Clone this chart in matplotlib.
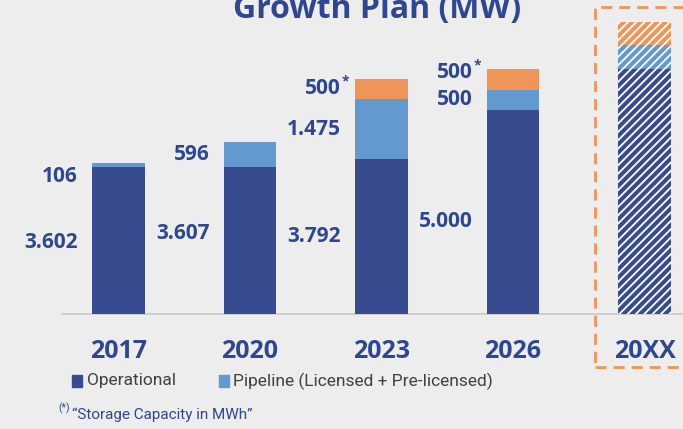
import matplotlib.pyplot as plt
from matplotlib.patches import Rectangle

# Werte (MW)
years = ["2017", "2020", "2023", "2026", "20XX"]
operational = [3602, 3607, 3792, 5000, 6000]
pipeline = [106, 596, 1475, 500, 600]
storage = [0, 0, 500, 500, 550]
op_labels = ["3.602", "3.607", "3.792", "5.000", None]
pipe_labels = ["106", "596", "1.475", "500", None]
storage_labels = [None, None, "500", "500", None]

c_op = "#384B8E"
c_pipe = "#6299CF"
c_sto = "#F0955A"
c_txt = "#2F4690"

plt.rcParams["font.family"] = ["Open Sans", "DejaVu Sans"]
plt.rcParams["hatch.linewidth"] = 1.3

W, H = 683, 429
fig = plt.figure(figsize=(W / 100, H / 100), dpi=100, facecolor="#EDEDED")
ax = fig.add_axes([0, 0, 1, 1])
ax.set_facecolor("#EDEDED")
ax.axis("off")

# pixel -> data: bar centers every 131.5 px, starting at 118.5 px; 24.5 MW per px, baseline 314 px from top
ax.set_xlim(-118.5 / 131.5, (W - 118.5) / 131.5)
ax.set_ylim(-(H - 314) * 24.5, 314 * 24.5)

x = list(range(len(years)))
width = 0.403
bottoms2 = [o + p for o, p in zip(operational, pipeline)]

for i in x:
    hatch = "////" if years[i] == "20XX" else None
    ec = "white" if hatch else "none"
    ax.bar(i, operational[i], width, color=c_op, hatch=hatch, edgecolor=ec, linewidth=0)
    ax.bar(i, pipeline[i], width, bottom=operational[i], color=c_pipe, hatch=hatch, edgecolor=ec, linewidth=0)
    if storage[i] > 0:
        ax.bar(i, storage[i], width, bottom=bottoms2[i], color=c_sto, hatch=hatch, edgecolor=ec, linewidth=0)

# Grundlinie
ax.axhline(0, xmin=62 / W, xmax=1, color="#C9C9C9", lw=1.2, zorder=0)

# Beschriftungen links neben den Balken
nudge = {("op", 0): -2, ("op", 1): 7, ("op", 3): -10, ("pipe", 0): -12, ("sto", 3): 7}
label_kw = dict(ha="right", va="center", fontsize=15, fontweight="bold", color=c_txt,
                textcoords="offset pixels")

def put(kind, i, text, ymid):
    dy = nudge.get((kind, i), 0)
    ax.annotate(text, (i - width / 2, ymid), xytext=(-14, dy), **label_kw)

for i in x:
    if op_labels[i]:
        put("op", i, op_labels[i], operational[i] / 2)
    if pipe_labels[i]:
        put("pipe", i, pipe_labels[i], operational[i] + pipeline[i] / 2)
    if storage_labels[i]:
        ymid = bottoms2[i] + storage[i] / 2
        dy = nudge.get(("sto", i), 0)
        put("sto", i, storage_labels[i], ymid)
        ax.annotate("*", (i - width / 2, ymid), xytext=(-13, dy + 7), textcoords="offset pixels",
                    ha="left", va="center", fontsize=10, fontweight="bold", color=c_txt)

# Jahre
for i in x:
    ax.text(i, -38 * 24.5, years[i], ha="center", va="center", fontsize=18,
            fontweight="bold", color=c_txt)

# Titel (oben abgeschnitten wie im Original)
fig.text(377 / W, 1 - 18 / H, "Growth Plan (MW)", ha="center", va="baseline",
         fontsize=23, fontweight="bold", color=c_txt)

# gestrichelter Rahmen um 20XX
fig.patches.append(Rectangle((595 / W, 1 - 367 / H), 120 / W, 360 / H, transform=fig.transFigure,
                             fill=False, edgecolor=c_sto, lw=2, linestyle=(0, (4, 2.5))))

# Legende
leg_font = ["Roboto", "DejaVu Sans"]
fig.patches.append(Rectangle((72 / W, 1 - 387 / H), 10 / W, 12 / H, transform=fig.transFigure,
                             color=c_op))
fig.text(87 / W, 1 - 381 / H, "Operational", ha="left", va="center", fontsize=12.5,
         color="#404040", family=leg_font)
fig.patches.append(Rectangle((219 / W, 1 - 387 / H), 10 / W, 12 / H, transform=fig.transFigure,
                             color=c_pipe))
fig.text(233 / W, 1 - 381 / H, "Pipeline (Licensed + Pre-licensed)", ha="left", va="center",
         fontsize=12.5, color="#404040", family=leg_font)

# Fußnote
fig.text(58 / W, 1 - 408 / H, "(*)", ha="left", va="center", fontsize=7.5, color=c_txt,
         family=leg_font)
fig.text(72 / W, 1 - 415 / H, "\u201cStorage Capacity in MWh\u201d", ha="left", va="center",
         fontsize=11, color=c_txt, family=leg_font)

fig.savefig("out.png", dpi=100, facecolor=fig.get_facecolor())
